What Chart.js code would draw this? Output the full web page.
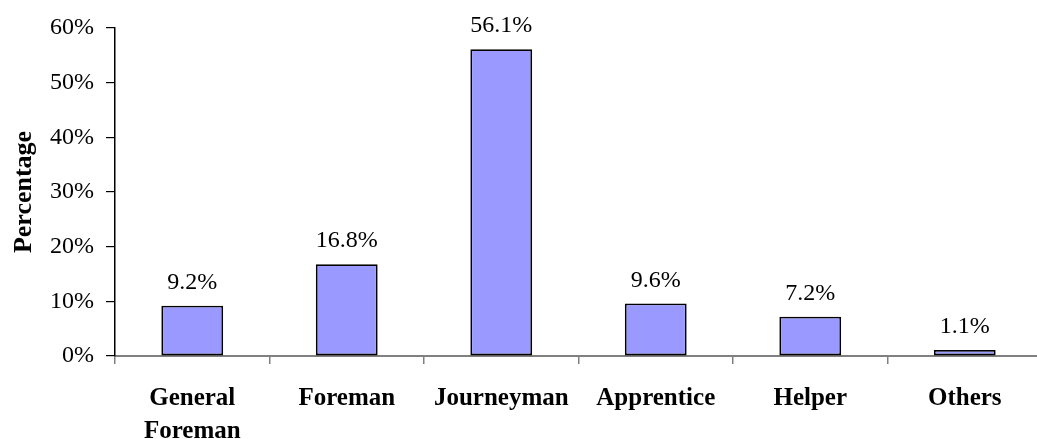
<!DOCTYPE html>
<html>
<head>
<meta charset="utf-8">
<script src="https://cdn.jsdelivr.net/npm/chart.js@4/dist/chart.umd.min.js"></script>
<style>
    html, body { margin: 0; padding: 0; background: #fff; overflow: hidden; }
    #wrap { position: absolute; left: 0; top: 0; width: 1044px; height: 439px; }
</style>
</head>
<body>
<div id="wrap"><canvas id="chart"></canvas></div>
<script>
// data
const categories = [["General", "Foreman"], "Foreman", "Journeyman", "Apprentice", "Helper", "Others"];
const percentages = [9.2, 16.8, 56.1, 9.6, 7.2, 1.1];
const yTicks = [0, 10, 20, 30, 40, 50, 60];

const serif = "'Liberation Serif', 'Times New Roman', serif";

// value labels above every bar
const barLabels = {
    id: "barLabels",
    afterDatasetsDraw(chart) {
        let ctx = chart.ctx;
        let meta = chart.getDatasetMeta(0);
        ctx.save();
        ctx.font = "24px " + serif;
        ctx.fillStyle = "#000";
        ctx.textAlign = "center";
        ctx.textBaseline = "alphabetic";
        meta.data.forEach((bar, i) => {
            ctx.fillText(percentages[i].toFixed(1) + "%", bar.x, bar.y - 17);
        });
        ctx.restore();
    }
};

new Chart(document.getElementById("chart").getContext("2d"), {
    type: "bar",
    data: {
        labels: categories,
        datasets: [{
            data: percentages,
            backgroundColor: "#9999FF",
            borderColor: "#000",
            borderWidth: 1.8,
            borderSkipped: false,
            barPercentage: 0.4,
            categoryPercentage: 1.0
        }]
    },
    options: {
        responsive: true,
        maintainAspectRatio: false,
        animation: false,
        layout: { padding: { top: 28, right: 2, left: 0, bottom: 0 } },
        plugins: {
            legend: { display: false },
            tooltip: { enabled: false }
        },
        scales: {
            x: {
                grid: {
                    display: true,
                    offset: true,
                    drawOnChartArea: false,
                    drawTicks: true,
                    tickLength: 8,
                    color: "#808080",
                    lineWidth: 1.5
                },
                border: { color: "#808080", width: 2 },
                ticks: {
                    color: "#000",
                    font: { family: serif, size: 25, weight: "bold", lineHeight: 1.32 },
                    padding: 18,
                    maxRotation: 0,
                    autoSkip: false
                },
                afterFit(scale) { scale.height = 83; }
            },
            y: {
                min: 0,
                max: 60,
                afterBuildTicks(scale) { scale.ticks = yTicks.map(v => ({ value: v })); },
                grid: {
                    display: true,
                    drawOnChartArea: false,
                    drawTicks: true,
                    tickLength: 9,
                    color: "#000",
                    lineWidth: 1.2
                },
                border: { color: "#000", width: 1.5 },
                ticks: {
                    color: "#000",
                    font: { family: serif, size: 24 },
                    padding: 12,
                    callback: v => v + "%"
                },
                title: {
                    display: true,
                    text: "Percentage",
                    color: "#000",
                    font: { family: serif, size: 26, weight: "bold", lineHeight: 1.2 },
                    padding: { top: 9, bottom: 0 }
                },
                afterFit(scale) { scale.width = 115; }
            }
        }
    },
    plugins: [barLabels]
});
</script>
</body>
</html>
